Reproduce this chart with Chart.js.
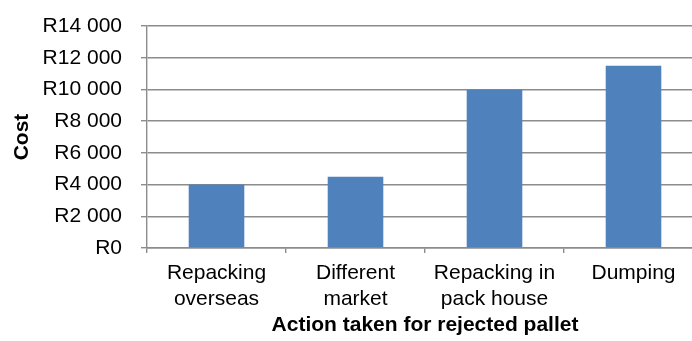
<!DOCTYPE html>
<html>
<head>
<meta charset="utf-8">
<script src="https://cdn.jsdelivr.net/npm/chart.js@4/dist/chart.umd.min.js"></script>
<style>
  html, body { margin: 0; padding: 0; background: #fff; overflow: hidden; }
  #wrap { position: relative; width: 720px; height: 341px; }
</style>
</head>
<body>
<div id="wrap"><canvas id="c"></canvas></div>
<script>
// Cost of each action taken for a rejected pallet (Rand)
const categories = [
  ["Repacking", "overseas"],
  ["Different", "market"],
  ["Repacking in", "pack house"],
  ["Dumping"]
];
const costs = [4000, 4500, 10000, 11500];
const yMin = 0;
const yMax = 14000;
const yStep = 2000;

const gridGrey = "#8c8c8c";
const fontFamily = "'Liberation Sans', Arial, sans-serif";

// "R14 000" style labels with a space as thousands separator
function rand(v) {
  return "R" + String(v).replace(/\B(?=(\d{3})+(?!\d))/g, " ");
}

new Chart(document.getElementById("c"), {
  type: "bar",
  data: {
    labels: categories,
    datasets: [{
      data: costs,
      backgroundColor: "#4f81bd",
      borderWidth: 0,
      barPercentage: 0.4,
      categoryPercentage: 1.0
    }]
  },
  options: {
    responsive: true,
    maintainAspectRatio: false,
    animation: false,
    layout: { padding: { top: 26, right: 17, left: 0, bottom: 0 } },
    plugins: { legend: { display: false }, tooltip: { enabled: false } },
    scales: {
      x: {
        grid: { display: true, drawOnChartArea: false, drawTicks: true, tickLength: 5, offset: true, color: gridGrey, lineWidth: 1.4 },
        border: { display: true, color: gridGrey, width: 1.4 },
        ticks: { color: "#000", font: { family: fontFamily, size: 21 }, padding: 8, maxRotation: 0, autoSkip: false,
                 lineHeight: 1.15 },
        title: { display: true, text: "Action taken for rejected pallet", color: "#000",
                 font: { family: fontFamily, size: 21, weight: "bold" }, padding: { top: 0, bottom: 3 } },
        afterFit: s => { s.height = 93; s.paddingLeft = 0; s.paddingRight = 0; }
      },
      y: {
        min: yMin, max: yMax,
        grid: { display: true, drawTicks: true, tickLength: 6, color: gridGrey, lineWidth: 1.4 },
        border: { display: true, color: gridGrey, width: 1.4 },
        ticks: { stepSize: yStep, color: "#000", font: { family: fontFamily, size: 21 }, padding: 19,
                 callback: v => rand(v) },
        title: { display: true, text: "Cost", color: "#000",
                 font: { family: fontFamily, size: 21, weight: "bold" }, padding: { top: 10, bottom: 0 } },
        afterFit: s => { s.width = 147; s.paddingTop = 0; s.paddingBottom = 0; }
      }
    }
  }
});
</script>
</body>
</html>
